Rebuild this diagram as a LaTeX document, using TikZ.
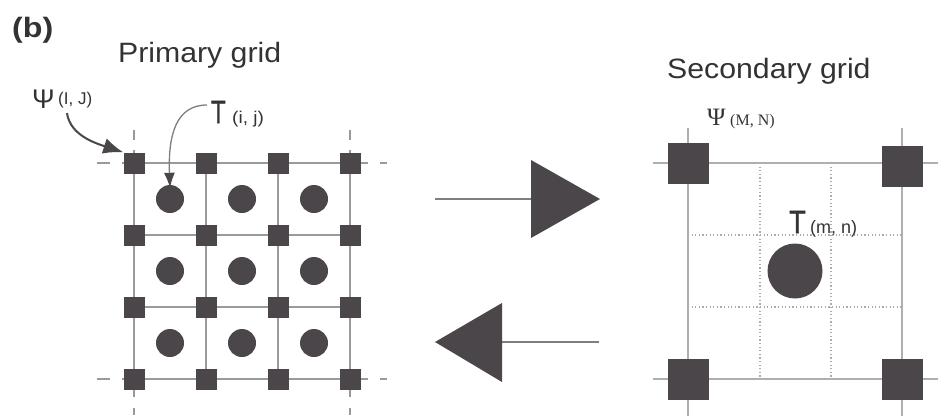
\documentclass[tikz,border=0pt]{standalone}
\usepackage{fontspec}
\setmainfont{Liberation Sans}
\newfontfamily\serifface{Liberation Serif}
\newfontfamily\heavyface[FakeBold=1.6]{Liberation Sans}
\usetikzlibrary{arrows.meta}
\definecolor{ink}{HTML}{4A4649}
\definecolor{txt}{HTML}{333333}
\definecolor{gline}{HTML}{9A9A9A}
\definecolor{gline2}{HTML}{AFAFAF}
\definecolor{dotc}{HTML}{ABABAB}
\definecolor{conn}{HTML}{7E7E7E}
\tikzset{
  gridline/.style={draw=gline, line width=1.4pt},
  gridtwo/.style={draw=gline2, line width=2pt},
  dotline/.style={draw=dotc, line width=1.1pt, dash pattern=on 1.2pt off 2.4pt},
  psq/.style={rectangle, fill=ink, minimum size=21pt, inner sep=0pt},
  pdot/.style={circle, fill=ink, minimum size=28pt, inner sep=0pt},
  ssq/.style={rectangle, fill=ink, minimum size=41pt, inner sep=0pt},
  sdot/.style={circle, fill=ink, minimum size=55pt, inner sep=0pt},
  lbl/.style={inner sep=0pt, anchor=base west, text=txt},
  title/.style={lbl, font=\fontsize{28}{32}\selectfont, xscale=1.08},
  psiarr/.style={draw=ink, line width=2pt, -{Latex[length=20pt,width=16pt]}},
  tarr/.style={draw=conn, line width=1.3pt, -{Latex[length=15pt,width=11pt,color=ink]}},
  flow/.style={draw=conn, line width=1.3pt},
}
\begin{document}
\begin{tikzpicture}[x=1pt, y=-1pt]
\useasboundingbox (0,0) rectangle (948,416);

% panel label and titles
\node[lbl, font=\bfseries\fontsize{28}{32}\selectfont, xscale=1.15] (panel) at (12,37) {(b)};
\node[title] (ptitle) at (118,62) {Primary grid};
\node[title] (stitle) at (667,78) {Secondary grid};

% primary grid lines
\foreach \y in {235,307} \draw[gridline] (134,\y) -- (350,\y);
\foreach \x in {206,278} \draw[gridline] (\x,163) -- (\x,379);
\foreach \y in {163,379} {
  \draw[gridline] (122,\y) -- (368,\y);
  \draw[gridline] (97,\y) -- (110,\y);
  \draw[gridline] (380,\y) -- (387,\y);
}
\foreach \x in {134,350} {
  \draw[gridline] (\x,150) -- (\x,397);
  \draw[gridline] (\x,130) -- (\x,140);
  \draw[gridline] (\x,408) -- (\x,415);
}

% primary grid nodes: psi at corners, T at cell centres
\foreach \i/\x in {1/134,2/206,3/278,4/350}
  \foreach \j/\y in {1/163,2/235,3/307,4/379}
    \node[psq] (p\i\j) at (\x,\y) {};
\foreach \i/\x in {1/170,2/242,3/314}
  \foreach \j/\y in {1/199,2/271,3/343}
    \node[pdot] (c\i\j) at (\x,\y) {};

% primary labels
\node[lbl, font=\fontsize{27}{30}\selectfont] (psiIJ) at (32,108) {Ψ};
\node[lbl, font=\fontsize{17}{20}\selectfont] (psiIJsub) at (58,104) {(I, J)};
\node[lbl, font=\heavyface\fontsize{32}{34}\selectfont, xscale=0.74] (tij) at (211,123) {T};
\node[lbl, font=\fontsize{17}{20}\selectfont, xscale=1.12] (tijsub) at (232,123) {(i, j)};

\coordinate (psiA) at (67,113);
\draw[psiarr] (psiA) .. controls (70,136) and (98,144) .. (p11.north west);
\coordinate (tA) at (207,105);
\draw[tarr] (tA) .. controls (176,105) and (168,135) .. ([yshift=-3pt]c11.north);

% transfer arrows between the grids
\coordinate (fwdA) at (435,199);
\coordinate (fwdB) at (531,199);
\draw[flow] (fwdA) -- (fwdB);
\fill[ink] (531,160) -- (600,199) -- (531,238) -- cycle;
\coordinate (bwdA) at (599,342);
\coordinate (bwdB) at (502,342);
\draw[flow] (bwdA) -- (bwdB);
\fill[ink] (435,342) -- (502,303) -- (502,382) -- cycle;

% secondary grid: fine subdivision, coarse lines, nodes
\foreach \x in {760,831} \draw[dotline] (\x,163) -- (\x,379);
\foreach \y in {235,307} \draw[dotline] (688,\y) -- (902,\y);
\foreach \y in {163,379} \draw[gridtwo] (653,\y) -- (938,\y);
\foreach \x in {688,902} \draw[gridtwo] (\x,128) -- (\x,416);
\node[ssq] (s11) at (688,163) {};
\node[ssq] (s21) at (902,166) {};
\node[ssq] (s12) at (688,379) {};
\node[ssq] (s22) at (902,379) {};
\node[sdot] (smid) at (795,271) {};

% secondary labels
\node[lbl, font=\serifface\fontsize{25}{28}\selectfont] (psiMN) at (707,125) {Ψ};
\node[lbl, font=\serifface\fontsize{16}{18}\selectfont] (psiMNsub) at (730,125) {(M, N)};
\node[lbl, font=\heavyface\fontsize{32}{34}\selectfont, xscale=0.85] (tmn) at (789,233) {T};
\node[lbl, font=\fontsize{18}{20}\selectfont] (tmnsub) at (810,233) {(m, n)};
\end{tikzpicture}
\end{document}
